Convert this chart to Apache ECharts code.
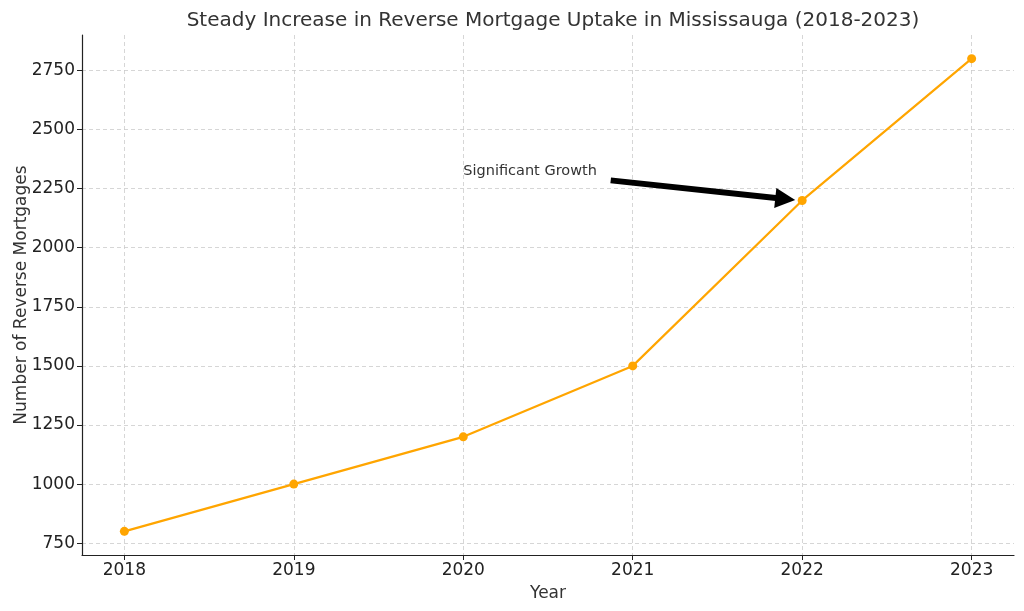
<!DOCTYPE html>
<html>
<head>
<meta charset="utf-8">
<script src="https://cdn.jsdelivr.net/npm/echarts@6/dist/echarts.min.js"></script>
<style>
  html, body { margin: 0; padding: 0; background: #fff; }
  #chart { width: 1024px; height: 611px; }
</style>
</head>
<body>
<div id="chart"></div>
<script>
// data
const years = [2018, 2019, 2020, 2021, 2022, 2023]
const mortgages = [800, 1000, 1200, 1500, 2200, 2800]
const yTicks = [750, 1000, 1250, 1500, 1750, 2000, 2250, 2500, 2750]
const noteText = 'Significant Growth'
const notePos = [2020, 2322]
const arrowFrom = [2020.87, 2285]
const arrowTo = [2021.90, 2206]

const font = 'DejaVu Sans'
const myChart = echarts.init(document.getElementById('chart'))

const gridLine = {
  show: true,
  lineStyle: { color: '#cccccc', type: [4, 3], width: 0.8 }
}

const option = {
  animation: false,
  title: {
    text: 'Steady Increase in Reverse Mortgage Uptake in Mississauga (2018-2023)',
    left: 548,
    top: 6,
    textAlign: 'center',
    textStyle: { fontFamily: font, fontSize: 20, fontWeight: 'normal', color: '#333333' }
  },
  grid: { left: 82, right: 10, top: 35, bottom: 56, outerBoundsMode: 'none' },
  xAxis: {
    type: 'value',
    min: 2017.75,
    max: 2023.25,
    name: 'Year',
    nameLocation: 'middle',
    nameGap: 30,
    nameMoveOverlap: false,
    nameTextStyle: { fontFamily: font, fontSize: 17, color: '#333333' },
    axisLine: { show: true, lineStyle: { color: '#222222', width: 1.2 } },
    axisTick: { show: true, inside: false, length: 5, customValues: years, lineStyle: { color: '#222222' } },
    axisLabel: {
      customValues: years,
      fontFamily: font, fontSize: 17, color: '#222222', margin: 7,
      formatter: v => String(v)
    },
    splitLine: gridLine
  },
  yAxis: {
    type: 'value',
    min: 700,
    max: 2900,
    name: 'Number of Reverse Mortgages',
    nameLocation: 'middle',
    nameGap: 52,
    nameMoveOverlap: false,
    nameTextStyle: { fontFamily: font, fontSize: 17, color: '#333333' },
    axisLine: { show: true, lineStyle: { color: '#222222', width: 1.2 } },
    axisTick: { show: true, inside: false, length: 5, customValues: yTicks, lineStyle: { color: '#222222' } },
    axisLabel: {
      customValues: yTicks,
      fontFamily: font, fontSize: 17, color: '#222222', margin: 7,
      formatter: v => String(v)
    },
    splitLine: gridLine
  },
  series: [
    {
      type: 'line',
      data: years.map((y, i) => [y, mortgages[i]]),
      symbol: 'circle',
      symbolSize: 9,
      lineStyle: { color: '#ffa500', width: 2.2 },
      itemStyle: { color: '#ffa500' },
      z: 3,
      markLine: {
        silent: true,
        symbol: ['none', 'triangle'],
        symbolSize: [20, 20],
        label: { show: false },
        lineStyle: { color: '#000000', width: 6, type: 'solid' },
        data: [[{ coord: arrowFrom }, { coord: arrowTo }]]
      },
      markPoint: {
        silent: true,
        symbol: 'circle',
        symbolSize: 0,
        label: {
          show: true,
          position: 'right',
          distance: 0,
          formatter: noteText,
          fontFamily: font,
          fontSize: 14.5,
          color: '#333333'
        },
        data: [{ coord: notePos }]
      }
    }
  ]
}

myChart.setOption(option)
</script>
</body>
</html>
